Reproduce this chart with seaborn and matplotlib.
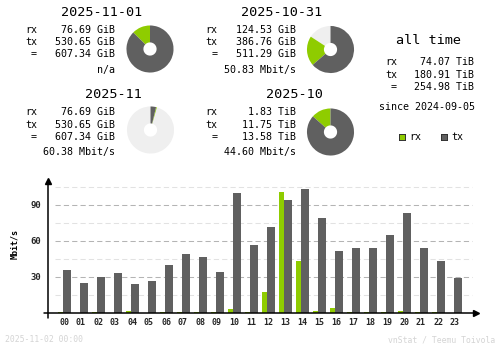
import numpy as np
import pandas as pd
import matplotlib
matplotlib.use("Agg")
import matplotlib.pyplot as plt
import seaborn as sns

# ---- data ----
hours = list(range(24))
hour_labels = [f"{h:02d}" for h in hours]
rx_rate = [1.1, 0, 1.1, 0, 1.9, 0, 1.1, 1.1, 1.1, 1.1, 3.6, 1.1,
           17.8, 101.1, 43.6, 1.9, 4.4, 1.1, 1.1, 1.1, 1.9, 1.1, 1.1, 0]
tx_rate = [36.1, 25.3, 29.7, 33.6, 24.4, 26.9, 40.3, 49.4, 46.9, 34.4, 100.3, 56.9,
           71.9, 94.4, 103.6, 79.4, 51.9, 54.4, 54.4, 65.3, 83.6, 54.4, 43.6, 29.4]
y_ticks = [30, 60, 90]

today_label, yday_label = "2025-11-01", "2025-10-31"
month_label, prev_month_label = "2025-11", "2025-10"
today_rx, today_tx = 76.69, 530.65          # GiB
yday_rx, yday_tx = 124.53, 386.76           # GiB
month_rx, month_tx = 76.69, 530.65          # GiB
prev_rx, prev_tx = 1.83, 11.75              # TiB
today_rate, yday_rate = "n/a", "50.83 Mbit/s"
month_rate, prev_rate = "60.38 Mbit/s", "44.60 Mbit/s"
alltime_rx, alltime_tx = 74.07, 180.91      # TiB
since = "2024-09-05"
stamp = "2025-11-02 00:00"

RX = "#8fcc00"
TX = "#606060"
UNUSED = "#efefef"
FOOT = "#d4d4d4"

sns.set_theme(style="white")
plt.rcParams["font.family"] = ["DejaVu Sans Mono"]

W, H = 500, 348
fig = plt.figure(figsize=(W / 100, H / 100), dpi=100)
fig.patch.set_facecolor("white")


def px_axes(x0, y0, w, h):
    return fig.add_axes([x0 / W, 1 - (y0 + h) / H, w / W, h / H])


def ftext(x, y, s, **kw):
    kw.setdefault("fontsize", 7.2)
    kw.setdefault("color", "black")
    fig.text(x / W, 1 - y / H, s, **kw)


def donut(cx, cy, rx, tx, ref_total):
    ax = px_axes(cx - 24, cy - 24, 48, 48)
    total = rx + tx
    unused = max(ref_total - total, 0)
    vals, cols = [], []
    if unused > 0:
        vals.append(unused)
        cols.append(UNUSED)
    vals += [rx, tx]
    cols += [RX, TX]
    ax.pie(vals, colors=cols, startangle=90, counterclock=True,
           wedgeprops=dict(width=0.72, edgecolor="none"))
    ax.set_xlim(-1.02, 1.02)
    ax.set_ylim(-1.02, 1.02)
    ax.set_aspect("equal")
    ax.axis("off")


def block(cx, base, title, rx, tx, unit, rate):
    ftext(cx - 8, base, title, fontsize=9.7, ha="right", va="baseline")
    rows = [base + 16.7, base + 29.0, base + 41.3]
    for lab, val, y in zip(["rx", "tx", "="], [rx, tx, rx + tx], rows):
        ftext(cx - 113, y, lab, ha="right", va="baseline")
        ftext(cx - 35, y, f"{val:.2f} {unit}", ha="right", va="baseline")
    ftext(cx - 35, base + 56.7, rate, ha="right", va="baseline")


today_total = today_rx + today_tx
yday_total = yday_rx + yday_tx
month_total = month_rx + month_tx
prev_total = (prev_rx + prev_tx) * 1024

# top row: days
block(150, 16, today_label, today_rx, today_tx, "GiB", today_rate)
donut(150, 49, today_rx, today_tx, max(today_total, yday_total))
block(330.5, 16, yday_label, yday_rx, yday_tx, "GiB", yday_rate)
donut(330.5, 49.5, yday_rx, yday_tx, max(today_total, yday_total))

# second row: months
block(150, 98.5, month_label, month_rx, month_tx, "GiB", month_rate)
donut(150.5, 130, month_rx, month_tx, max(month_total, prev_total))
block(330.5, 98.5, prev_month_label, prev_rx, prev_tx, "TiB", prev_rate)
donut(330.5, 132, prev_rx * 1024, prev_tx * 1024, max(month_total, prev_total))

# all time summary
ftext(429, 44, "all time", fontsize=9.7, ha="center", va="baseline")
for lab, val, y in zip(["rx", "tx", "="],
                       [alltime_rx, alltime_tx, alltime_rx + alltime_tx],
                       [65.3, 77.6, 90.3]):
    ftext(397, y, lab, ha="right", va="baseline")
    ftext(474, y, f"{val:.2f} TiB", ha="right", va="baseline")
ftext(427, 110.5, f"since {since}", ha="center", va="baseline")

# legend
for x0, col, lab in [(399, RX, "rx"), (441, TX, "tx")]:
    lax = px_axes(x0, 134, 6, 6)
    lax.set_facecolor(col)
    lax.set_xticks([]); lax.set_yticks([])
    for s in lax.spines.values():
        s.set_color("#303030"); s.set_linewidth(0.7)
    ftext(x0 + 10, 140, lab, ha="left", va="baseline")

# ---- hourly bar chart ----
# pixel geometry: hour h centred at 64 + 17*h, zero line at y=313, 1.2 px per Mbit/s
ax = px_axes(44, 178, 434, 140)
x_lo, x_hi = (44 - 64) / 17, (478 - 64) / 17
y_lo, y_hi = (313 - 318) / 1.2, (313 - 178) / 1.2

# grid
for v in range(15, 106, 15):
    major = v % 30 == 0
    ax.hlines(v, (55 - 64) / 17, (472 - 64) / 17,
              colors="#b4b4b4" if major else "#e2e2e2",
              linewidth=0.75, linestyles=(0, (5, 3)), zorder=0)

df = pd.DataFrame({"hour": hours, "rx": rx_rate, "tx": tx_rate})
sns.barplot(x=df["hour"] - 0.21, y=df["rx"], native_scale=True, orient="x",
            width=0.34, color=RX, saturation=1, errorbar=None, ax=ax,
            linewidth=0, zorder=2)
sns.barplot(x=df["hour"] + 0.19, y=df["tx"], native_scale=True, orient="x",
            width=0.45, color=TX, saturation=1, errorbar=None, ax=ax,
            linewidth=0, zorder=2)

ax.set_xlim(x_lo, x_hi)
ax.set_ylim(y_lo, y_hi)
for s in ax.spines.values():
    s.set_visible(False)
ax.set_facecolor("none")
ax.set_xlabel("")
ax.set_ylabel("")
ax.set_xticks(hours)
ax.set_xticklabels(hour_labels, fontsize=6, fontweight="bold")
ax.set_yticks(y_ticks)
ax.set_yticklabels([str(t) for t in y_ticks], fontsize=6.5, fontweight="bold")
ax.tick_params(axis="both", length=0)
ax.tick_params(axis="x", pad=0)
ax.tick_params(axis="y", pad=2)

# axes lines with arrow heads
x_axis = (48 - 64) / 17
ax.plot([x_lo, (476 - 64) / 17], [0, 0], color="black", lw=1.1, clip_on=False, zorder=3)
ax.plot([(476 - 64) / 17], [0], marker=">", color="black", ms=4, clip_on=False, zorder=3)
ax.plot([x_axis, x_axis], [y_lo, (313 - 181) / 1.2], color="black", lw=1.1,
        clip_on=False, zorder=3)
ax.plot([x_axis], [(313 - 181) / 1.2], marker="^", color="black", ms=4,
        clip_on=False, zorder=3)

ftext(15, 244, "Mbit/s", fontsize=6, fontweight="bold", rotation=90,
      ha="center", va="center")

# footer
ftext(5, 340, stamp, fontsize=5.9, color=FOOT, ha="left", va="center")
ftext(495, 340, "vnStat / Teemu Toivola", fontsize=5.9, color=FOOT,
      ha="right", va="center")

fig.savefig("out.png", dpi=100, facecolor="white")
